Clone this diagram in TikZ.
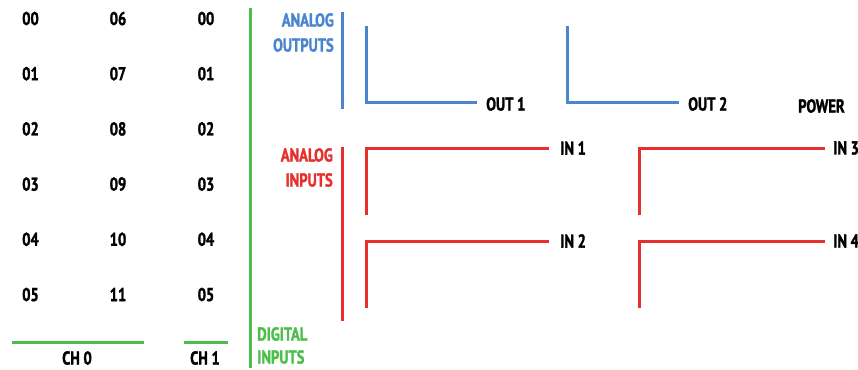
\documentclass[tikz,border=0pt]{standalone}
\usepackage{fontspec}
\newfontfamily\condbold{PT Sans Bold}[FakeStretch=0.78,FakeBold=1.6]
\definecolor{aoblue}{RGB}{74,134,208}
\definecolor{aired}{RGB}{230,48,46}
\definecolor{digreen}{RGB}{77,190,74}
\begin{document}
\begin{tikzpicture}[x=0.75pt,y=-0.75pt,
  txt/.style={font=\condbold\fontsize{14}{16}\selectfont, inner sep=0pt},
  pin/.style={txt, anchor=center},
  lbl/.style={txt, anchor=west},
  bl/.style={draw=aoblue, line width=2.25pt},
  rl/.style={draw=aired, line width=2.25pt},
  gl/.style={draw=digreen, line width=2.25pt}]
\useasboundingbox (0,0) rectangle (858,369);
% CH0 pins
\foreach \a/\b [count=\i from 0] in {00/06,01/07,02/08,03/09,04/10,05/11}{
  \node[pin] (l\i) at (30.5,{18.5+55.2*\i}) {\a};
  \node[pin] (m\i) at (118,{18.5+55.2*\i}) {\b};
  \node[pin] (r\i) at (206,{18.5+55.2*\i}) {\a};
}
\draw[gl] (12,342) -- (144,342);
\node[pin] (ch0) at (77,358) {CH 0};
\draw[gl] (184,342) -- (228,342);
\node[pin] (ch1) at (205,358) {CH 1};
\draw[gl] (250,8) -- (250,368);
\node[txt, anchor=west, text=digreen] (dig1) at (257,334) {DIGITAL};
\node[txt, anchor=west, text=digreen] (dig2) at (257,357) {INPUTS};
% analog outputs
\node[txt, anchor=east, text=aoblue] (ao1) at (334,20) {ANALOG};
\node[txt, anchor=east, text=aoblue] (ao2) at (334,45) {OUTPUTS};
\draw[bl] (342,12) -- (342,109);
\node[lbl] (out1) at (486,104) {OUT 1};
\node[lbl] (out2) at (688,104) {OUT 2};
\node[lbl] (pwr) at (798,106) {POWER};
\draw[bl] (366,26) -- (366,102) -- (477,102);
\draw[bl] (567,26) -- (567,102) -- (679,102);
% analog inputs
\node[txt, anchor=east, text=aired] (ai1) at (333,155) {ANALOG};
\node[txt, anchor=east, text=aired] (ai2) at (333,180) {INPUTS};
\draw[rl] (342,147) -- (342,321);
\node[lbl] (in1) at (560,148) {IN 1};
\node[lbl] (in3) at (833,148) {IN 3};
\node[lbl] (in2) at (560,241) {IN 2};
\node[lbl] (in4) at (833,241) {IN 4};
\draw[rl] (366,215) -- (366,148) -- (549,148);
\draw[rl] (639,215) -- (639,148) -- (825,148);
\draw[rl] (366,308) -- (366,241) -- (549,241);
\draw[rl] (639,308) -- (639,241) -- (825,241);
\end{tikzpicture}
\end{document}
